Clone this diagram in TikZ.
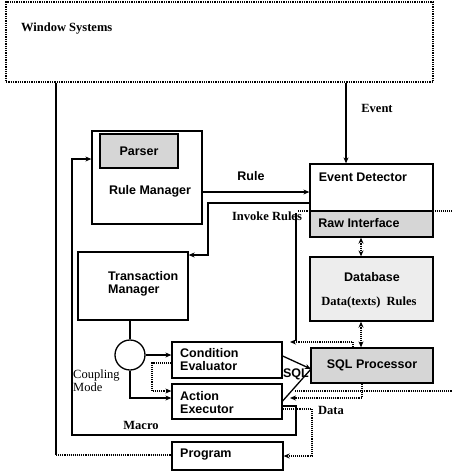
\documentclass[tikz,border=0pt]{standalone}
\usepackage{xcolor}
\usepackage{fontspec}
\setmainfont{Liberation Serif}
\setsansfont{Liberation Sans}
\usetikzlibrary{arrows.meta}

\tikzset{
  box/.style={draw,line width=1.3pt,inner sep=0pt},
  shadebox/.style={box,fill=black!16},
  lbl/.style={font=\sffamily\bfseries\fontsize{12.5}{13}\selectfont,inner sep=0pt,align=left},
  note/.style={font=\rmfamily\bfseries\fontsize{12.5}{13}\selectfont,inner sep=0pt,align=left},
  flow/.style={line width=1.1pt,-{Stealth[length=6pt,width=5pt]}},
  dflow/.style={flow,densely dotted},
  plain/.style={line width=1.1pt},
}

\begin{document}
\begin{tikzpicture}[x=1pt,y=-1pt]
      \fill[white] (0,0) rectangle (452,472);
      \useasboundingbox (0,0) rectangle (452,472);

      \coordinate (sepa) at (298,211);
      \coordinate (sepb) at (452,211);
      \coordinate (sepc) at (295,391);
      \coordinate (sepd) at (452,391);
      \draw[plain,densely dotted] (sepa) -- (sepb);
      \draw[plain,densely dotted] (sepc) -- (sepd);

      \node[box,densely dotted,minimum width=427pt,minimum height=80pt] (win) at (219.5,42) {};
      \node[note,anchor=west] (wint) at (21,29) {Window Systems};

      \node[box,minimum width=110pt,minimum height=93pt] (rm) at (147,177.5) {};
      \node[shadebox,lbl,minimum width=78pt,minimum height=34pt] (parser) at (139,151) {Parser};
      \node[lbl] (rmt) at (150,191) {Rule Manager};

      \node[box,minimum width=123pt,minimum height=47pt] (ed) at (371.5,187.5) {};
      \node[lbl] (edt) at (363,177) {Event Detector};
      \node[shadebox,minimum width=123pt,minimum height=26pt] (ri) at (371.5,224) {};
      \node[lbl] (rit) at (359,223) {Raw Interface};

      \node[box,fill=black!7,minimum width=123pt,minimum height=64pt] (db) at (371.5,289) {};
      \node[lbl] (dbt) at (372,277) {Database};
      \node[note] (dbd) at (369,302) {Data(texts) \ Rules};

      \node[box,minimum width=110pt,minimum height=68pt] (tm) at (133,286) {};
      \node[lbl,anchor=west] (tmt) at (108,284) {Transaction\\Manager};

      \node[draw,circle,line width=1.3pt,minimum size=30pt,inner sep=0pt] (cm) at (130,355) {};
      \node[note,font=\rmfamily\fontsize{12.5}{13}\selectfont,anchor=west] (cmt) at (73,381) {Coupling\\Mode};

      \node[box,minimum width=110pt,minimum height=36pt] (ce) at (227,360) {};
      \node[lbl,anchor=west] (cet) at (180,360) {Condition\\Evaluator};
      \node[box,minimum width=110pt,minimum height=35pt] (ae) at (227,401.5) {};
      \node[lbl,anchor=west] (aet) at (180,403) {Action\\Executor};

      \node[shadebox,lbl,minimum width=122pt,minimum height=35pt] (sql) at (372,365.5) {SQL Processor};
      \node[box,minimum width=111pt,minimum height=28pt] (prog) at (227.5,456) {};
      \node[lbl,anchor=west] (progt) at (180,455) {Program};

      \node[note] (evt) at (377,108) {Event};
      \node[lbl] (rul) at (251,176) {Rule};
      \node[note] (invt) at (267,216) {Invoke Rules};
      \node[note] (mac) at (141,425) {Macro};
      \node[lbl] (sqlt) at (296,374) {SQL};
      \node[note] (dat) at (331,410) {Data};

      % window and program
      \coordinate (wl) at (56,455);
      \draw[plain] (win.south -| wl) -- (wl);
      \draw[plain,densely dotted] (wl) -- (prog.west |- wl);

      \coordinate (ev) at (346,0);
      \draw[flow] (win.south -| ev) -- (ed.north -| ev);

      \coordinate (ru) at (0,192);
      \draw[flow,line width=2.2pt] (rm.east |- ru) -- (ed.west |- ru);

      \coordinate (inv) at (208,203);
      \coordinate (invd) at (208,255);
      \draw[flow] (ed.west |- inv) -- (inv) -- (invd) -- (tm.east |- invd);

      \coordinate (vt) at (296,213);
      \coordinate (vb) at (296,341);
      \draw[plain] (vt) -- (vb);

      % coupling
      \coordinate (cpl) at (130,398);
      \draw[plain] (tm.south -| cm) -- (cm.north);
      \draw[flow] (cm.east) -- (ce.west |- cm.east);
      \draw[flow] (cm.south) -- (cpl) -- (ae.west |- cpl);

      \coordinate (ca) at (152,363);
      \coordinate (cb) at (152,391);
      \draw[dflow] (ce.west |- ca) -- (ca) -- (cb) -- (ae.west |- cb);

      % sql
      \coordinate (sqin) at (311,369);
      \coordinate (ceo) at (282,356);
      \coordinate (aeo) at (282,401);
      \draw[flow,line width=1.3pt] (ce.east |- ceo) -- (sqin);
      \draw[line width=1.3pt] (ae.east |- aeo) -- (sqin);

      \coordinate (dx) at (361,0);
      \draw[dflow,{Stealth[length=6pt,width=5pt]}-{Stealth[length=6pt,width=5pt]}] (ri.south -| dx) -- (db.north -| dx);
      \draw[dflow,{Stealth[length=6pt,width=5pt]}-{Stealth[length=6pt,width=5pt]}] (db.south -| dx) -- (sql.north -| dx);

      \coordinate (sa) at (353,342);
      \coordinate (sb) at (290,342);
      \draw[dflow] (sql.north -| sa) -- (sa) -- (sb);

      \coordinate (da) at (362,398);
      \coordinate (dd) at (290,398);
      \draw[dflow] (sql.south -| da) -- (da) -- (dd);

      % macro
      \coordinate (ma) at (296,406);
      \coordinate (mb) at (296,435);
      \coordinate (mc) at (72,435);
      \coordinate (md) at (72,159);
      \draw[flow] (ae.east |- ma) -- (ma) -- (mb) -- (mc) -- (md) -- (rm.west |- md);

      \coordinate (pa) at (312,409);
      \coordinate (pb) at (312,456);
      \draw[dflow] (ae.east |- pa) -- (pa) -- (pb) -- (prog.east |- pb);
\end{tikzpicture}
\end{document}
